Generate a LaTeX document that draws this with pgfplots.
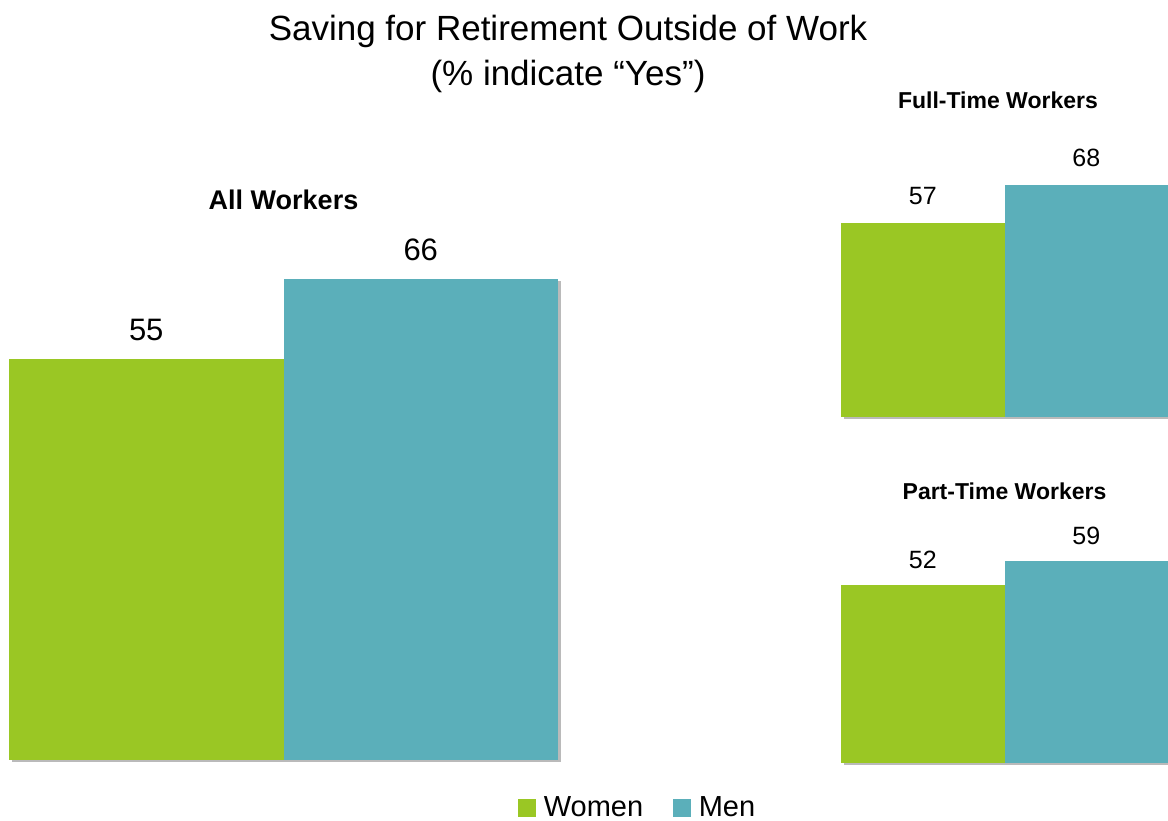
\documentclass[border=0pt]{standalone}
\usepackage{fontspec}
\setmainfont{Liberation Sans}
\usepackage{pgfplots}
\pgfplotsset{compat=1.18}
\usetikzlibrary{shadows}

\definecolor{women}{RGB}{154,199,36}
\definecolor{men}{RGB}{91,175,186}

\pgfplotsset{
  panel/.style={
    scale only axis,
    hide axis,
    clip=false,
    ybar,
    bar width=1,
    bar shift=0pt,
    xmin=-0.5, xmax=1.5,
    ymin=0,
    nodes near coords,
    /pgf/number format/assume math mode=true,
    every axis title shift=0pt,
  },
  shadowbar/.style={draw=none,
    drop shadow={shadow xshift=1.5pt,shadow yshift=-1.2pt,opacity=0.45,fill=black!60}},
}

\begin{document}
\begin{tikzpicture}
\path[use as bounding box] (0,0) rectangle (584pt,410pt);

\node[align=center, font=\fontsize{17.5}{22.5}\selectfont] at (284pt,383pt)
  {Saving for Retirement Outside of Work\\(\% indicate “Yes”)};

% all workers
\begin{axis}[panel,
  at={(4.5pt,30pt)}, anchor=south west,
  width=274.5pt, height=328pt, ymax=90,
  title={All Workers},
  title style={at={(0.5,0.854)}, anchor=center, font=\fontsize{13.5}{16}\selectfont\bfseries},
  every node near coord/.append style={anchor=center, yshift=14.5pt, font=\fontsize{15.5}{18}\selectfont},
  legend columns=2,
  legend style={at={(1.147,-0.073)}, anchor=center, draw=none, fill=none,
    font=\fontsize{14.5}{16}\selectfont,
    /tikz/every odd column/.append style={column sep=2pt},
    /tikz/every even column/.append style={column sep=13pt}},
  legend image code/.code={\fill[#1] (0pt,-4.4pt) rectangle (8.8pt,4.4pt);},
]
\addplot[shadowbar, fill=women, forget plot] coordinates {(0,55)};
\addplot[shadowbar, fill=men, forget plot] coordinates {(1,66)};
\addlegendimage{fill=women, draw=none}
\addlegendentry{Women}
\addlegendimage{fill=men, draw=none}
\addlegendentry{Men}
\end{axis}

% full-time workers
\begin{axis}[panel,
  at={(420.5pt,201.5pt)}, anchor=south west,
  width=163.5pt, height=136.4pt, ymax=80,
  title={Full-Time Workers},
  title style={at={(0.48,1.162)}, anchor=center, font=\fontsize{11.5}{14}\selectfont\bfseries},
  every node near coord/.append style={anchor=center, yshift=13.5pt, font=\fontsize{12.5}{15}\selectfont},
]
\addplot[shadowbar, fill=women] coordinates {(0,57)};
\addplot[shadowbar, fill=men] coordinates {(1,68)};
\end{axis}

% part-time workers
\begin{axis}[panel,
  at={(420.5pt,28.5pt)}, anchor=south west,
  width=163.5pt, height=136.8pt, ymax=80,
  title={Part-Time Workers},
  title style={at={(0.5,0.994)}, anchor=center, font=\fontsize{11.5}{14}\selectfont\bfseries},
  every node near coord/.append style={anchor=center, yshift=12.8pt, font=\fontsize{12.5}{15}\selectfont},
]
\addplot[shadowbar, fill=women] coordinates {(0,52)};
\addplot[shadowbar, fill=men] coordinates {(1,59)};
\end{axis}
\end{tikzpicture}
\end{document}
